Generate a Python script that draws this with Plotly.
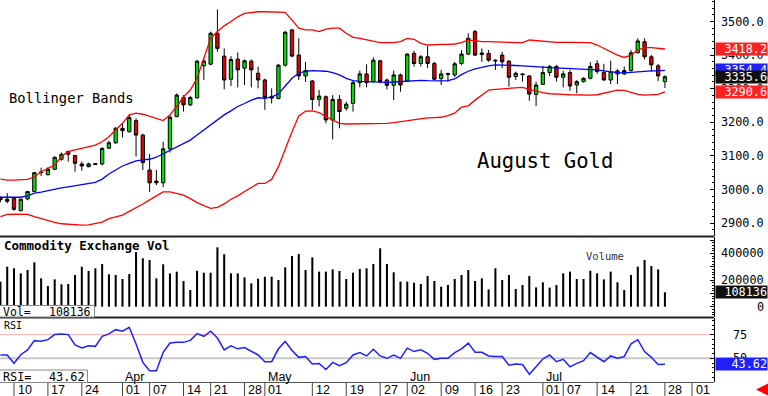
import plotly.graph_objects as go

# ---------------- data ----------------
mar_days = [6, 7, 10, 11, 12, 13, 14, 17, 18, 19, 20, 21, 24, 25, 26, 27, 28, 31]
apr_days = [1, 2, 3, 4, 7, 8, 9, 10, 11, 14, 15, 16, 17, 21, 22, 23, 24, 25, 28, 29, 30]
may_days = [1, 2, 5, 6, 7, 8, 9, 12, 13, 14, 15, 16, 19, 20, 21, 22, 23, 27, 28, 29, 30]
jun_days = [2, 3, 4, 5, 6, 9, 10, 11, 12, 13, 16, 17, 18, 20, 23, 24, 25, 26, 27, 30]
jul_days = [1, 2, 3, 7, 8, 9, 10, 11, 14, 15, 16, 17, 18, 21, 22, 23, 24, 25, 28]
future_dates = ["2025-07-29", "2025-07-30", "2025-07-31", "2025-08-01",
                "2025-08-04", "2025-08-05", "2025-08-06"]

dates = ([f"2025-03-{d:02d}" for d in mar_days] + [f"2025-04-{d:02d}" for d in apr_days]
         + [f"2025-05-{d:02d}" for d in may_days] + [f"2025-06-{d:02d}" for d in jun_days]
         + [f"2025-07-{d:02d}" for d in jul_days])
axis_dates = dates + future_dates

opens = [2975, 2971, 2974, 2937, 2972, 2994, 3050, 3044, 3060, 3090,
         3113, 3101, 3076, 3068, 3077, 3076, 3123, 3139, 3182, 3172,
         3205, 3162, 3058, 3025, 3020, 3121, 3217, 3274, 3252, 3273,
         3368, 3373, 3465, 3397, 3328, 3388, 3361, 3382, 3346, 3326,
         3277, 3271, 3370, 3475, 3400, 3338, 3323, 3268, 3276, 3207,
         3268, 3242, 3256, 3318, 3344, 3321, 3383, 3326, 3310, 3341,
         3323, 3405, 3375, 3395, 3375, 3330, 3345, 3341, 3375, 3403,
         3470, 3402, 3405, 3385, 3400, 3382, 3336, 3344, 3338, 3283,
         3313, 3348, 3366, 3334, 3348, 3311, 3321, 3331, 3374, 3348,
         3326, 3353, 3344, 3354, 3407, 3440, 3395, 3368, 3321]
highs = [2980, 2989, 2978, 2973, 2996, 3052, 3065, 3066, 3098, 3110,
         3116, 3103, 3083, 3080, 3079, 3126, 3145, 3186, 3197, 3222,
         3212, 3166, 3106, 3058, 3142, 3222, 3286, 3281, 3278, 3386,
         3390, 3470, 3536, 3420, 3397, 3408, 3387, 3387, 3366, 3330,
         3301, 3374, 3472, 3478, 3450, 3380, 3326, 3296, 3280, 3281,
         3281, 3261, 3326, 3354, 3373, 3393, 3386, 3330, 3354, 3345,
         3405, 3413, 3400, 3427, 3380, 3356, 3348, 3380, 3415, 3465,
         3475, 3420, 3415, 3387, 3410, 3385, 3351, 3346, 3340, 3321,
         3368, 3371, 3371, 3353, 3356, 3326, 3334, 3379, 3385, 3374,
         3383, 3358, 3366, 3415, 3450, 3450, 3400, 3374, 3340]
lows = [2962, 2959, 2937, 2935, 2968, 2992, 3040, 3042, 3058, 3086,
        3083, 3053, 3056, 3066, 3073, 3072, 3120, 3136, 3155, 3169,
        3098, 3058, 2993, 3013, 3007, 3110, 3215, 3232, 3248, 3270,
        3326, 3370, 3410, 3298, 3308, 3304, 3311, 3304, 3301, 3237,
        3256, 3268, 3366, 3393, 3326, 3320, 3237, 3247, 3197, 3149,
        3182, 3235, 3232, 3304, 3304, 3318, 3316, 3298, 3266, 3291,
        3321, 3366, 3366, 3361, 3326, 3311, 3321, 3334, 3370, 3400,
        3397, 3380, 3380, 3356, 3361, 3306, 3326, 3321, 3264, 3248,
        3311, 3338, 3321, 3304, 3294, 3286, 3318, 3328, 3344, 3324,
        3314, 3314, 3341, 3351, 3405, 3387, 3351, 3323, 3302]
closes = [2970, 2965, 2941, 2971, 2994, 3050, 3052, 3060, 3096, 3105,
          3105, 3078, 3070, 3076, 3075, 3122, 3139, 3182, 3175, 3214,
          3162, 3080, 3020, 3020, 3121, 3215, 3281, 3252, 3274, 3382,
          3382, 3465, 3420, 3326, 3387, 3356, 3383, 3356, 3326, 3274,
          3272, 3370, 3468, 3397, 3338, 3354, 3268, 3278, 3207, 3268,
          3232, 3254, 3318, 3344, 3318, 3385, 3321, 3310, 3341, 3311,
          3403, 3375, 3395, 3375, 3328, 3344, 3343, 3374, 3403, 3450,
          3400, 3406, 3385, 3383, 3380, 3334, 3346, 3342, 3284, 3311,
          3348, 3366, 3334, 3344, 3308, 3321, 3331, 3366, 3351, 3326,
          3351, 3344, 3354, 3407, 3442, 3395, 3371, 3338, 3335.6]

bb_upper = [3031, 3028, 3028, 3028, 3030, 3038, 3053, 3063, 3073, 3098,
            3113, 3118, 3123, 3128, 3132, 3142, 3157, 3177, 3197, 3222,
            3227, 3224, 3217, 3210, 3205, 3222, 3247, 3276, 3296, 3331,
            3390, 3450, 3470, 3487, 3500, 3514, 3524, 3527, 3529, 3529,
            3529, 3529, 3527, 3504, 3480, 3475, 3475, 3470, 3477, 3480,
            3480, 3465, 3453, 3450, 3445, 3440, 3437, 3437, 3437, 3440,
            3450, 3447, 3435, 3430, 3432, 3432, 3432, 3433, 3437, 3445,
            3443, 3440, 3440, 3440, 3439, 3438, 3437, 3437, 3445, 3443,
            3440, 3439, 3438, 3438, 3438, 3437, 3437, 3437, 3430, 3420,
            3410, 3400, 3393, 3400, 3415, 3422, 3422, 3420, 3418.2]
bb_mid = [2977, 2977, 2977, 2977, 2981, 2989, 2992, 2997, 3001, 3005,
          3008, 3011, 3013, 3016, 3021, 3031, 3046, 3058, 3070, 3078,
          3085, 3088, 3090, 3096, 3106, 3116, 3128, 3137, 3147, 3162,
          3177, 3192, 3207, 3222, 3234, 3247, 3256, 3266, 3273, 3271,
          3276, 3284, 3308, 3331, 3346, 3352, 3354, 3354, 3352, 3348,
          3341, 3331, 3324, 3322, 3321, 3320, 3319, 3319, 3320, 3321,
          3323, 3325, 3325, 3324, 3323, 3323, 3324, 3329, 3342, 3352,
          3359, 3364, 3368, 3371, 3371, 3370, 3369, 3368, 3366, 3365,
          3364, 3363, 3362, 3361, 3360, 3359, 3359, 3358, 3356, 3353,
          3350, 3348, 3347, 3349, 3351, 3352, 3353, 3353, 3354.4]
bb_lower = [2919, 2926, 2927, 2927, 2926, 2919, 2913, 2907, 2902, 2898,
            2896, 2894, 2894, 2895, 2898, 2903, 2913, 2919, 2924, 2935,
            2945, 2957, 2969, 2981, 2993, 2993, 2989, 2983, 2973, 2961,
            2952, 2944, 2947, 2957, 2971, 2981, 2994, 3007, 3018, 3018,
            3030, 3068, 3123, 3172, 3219, 3233, 3234, 3229, 3217, 3207,
            3197, 3195, 3195, 3196, 3196, 3197, 3197, 3197, 3199, 3202,
            3205, 3207, 3212, 3213, 3214, 3215, 3220, 3227, 3245, 3249,
            3266, 3281, 3296, 3298, 3299, 3300, 3302, 3304, 3298, 3292,
            3288, 3285, 3283, 3283, 3282, 3281, 3281, 3281, 3282, 3287,
            3292, 3296, 3295, 3290, 3283, 3281, 3281, 3283, 3290.6]

volume = [187000, 300000, 288000, 250000, 275000, 333000, 213000, 155000, 205000, 168000,
          170000, 238000, 300000, 268000, 288000, 320000, 243000, 238000, 208000, 245000,
          410000, 363000, 350000, 213000, 318000, 250000, 263000, 193000, 125000, 270000,
          255000, 255000, 445000, 393000, 250000, 250000, 220000, 175000, 210000, 225000,
          225000, 200000, 295000, 380000, 395000, 275000, 370000, 263000, 263000, 280000,
          268000, 208000, 255000, 283000, 288000, 320000, 438000, 320000, 258000, 188000,
          188000, 180000, 170000, 230000, 193000, 150000, 163000, 208000, 238000, 275000,
          193000, 213000, 130000, 288000, 200000, 238000, 133000, 163000, 230000, 145000,
          183000, 143000, 163000, 250000, 263000, 208000, 208000, 270000, 250000, 205000,
          263000, 183000, 125000, 238000, 300000, 350000, 305000, 280000, 108136]

rsi = [53.5, 53.5, 44.7, 53.8, 58.8, 68.6, 67.9, 69.7, 75.0, 75.7,
       75.0, 64.0, 60.9, 63.3, 62.6, 73.2, 75.7, 80.2, 78.5, 82.7,
       65.0, 45.7, 36.9, 36.9, 56.3, 66.2, 67.0, 66.8, 68.9, 76.0,
       73.2, 78.5, 71.4, 58.9, 63.2, 60.0, 61.4, 57.1, 53.5, 46.4,
       46.4, 60.0, 67.8, 58.2, 51.0, 51.8, 43.9, 44.6, 38.2, 45.7,
       42.1, 45.3, 53.5, 56.0, 52.5, 59.6, 52.5, 50.0, 53.5, 50.0,
       60.7, 57.1, 58.9, 55.3, 48.9, 50.0, 50.0, 56.0, 60.0, 66.0,
       56.4, 56.4, 52.5, 51.8, 51.8, 42.8, 43.9, 43.5, 33.2, 41.0,
       49.3, 53.5, 46.4, 48.9, 41.0, 44.6, 47.5, 56.0, 51.0, 46.4,
       52.5, 50.0, 51.8, 65.3, 69.6, 57.1, 51.0, 43.5, 43.62]

tick_dates = ["2025-03-10", "2025-03-17", "2025-03-24", "2025-04-01", "2025-04-07",
              "2025-04-14", "2025-04-21", "2025-04-28", "2025-05-01", "2025-05-12",
              "2025-05-19", "2025-05-27", "2025-06-02", "2025-06-09", "2025-06-16",
              "2025-06-23", "2025-07-01", "2025-07-07", "2025-07-14", "2025-07-21",
              "2025-07-28", "2025-08-01"]
tick_labels = ["10", "17", "24", "01", "07", "14", "21", "28", "01", "12", "19",
               "27", "02", "09", "16", "23", "01", "07", "14", "21", "28", "01"]
month_dates = ["2025-04-01", "2025-05-01", "2025-06-02", "2025-07-01"]
month_labels = ["Apr", "May", "Jun", "Jul"]
price_ticks = [2900, 3000, 3100, 3200, 3300, 3400, 3500]
vol_ticks = [0, 200000, 400000]
rsi_ticks = [50, 75]

# ---------------- layout helpers (pixels -> paper) ----------------
W, H = 768, 396
PL, PR, PT, PB = 0, 714, 0, 382


def px(x):
    return (x - PL) / (PR - PL)


def py(y):
    return (PB - y) / (PB - PT)


MONO = "DejaVu Sans Mono"
SANS = "Liberation Sans"

fig = go.Figure()
fig.add_trace(go.Candlestick(
    x=dates, open=opens, high=highs, low=lows, close=closes,
    increasing=dict(fillcolor="#00dd00", line=dict(color="#000000", width=1)),
    decreasing=dict(fillcolor="#e00000", line=dict(color="#000000", width=1)),
    whiskerwidth=0, xaxis="x", yaxis="y", showlegend=False, hoverinfo="skip"))
for band, col in ((bb_upper, "#ff0000"), (bb_lower, "#ff0000"), (bb_mid, "#0000ff")):
    fig.add_trace(go.Scatter(x=dates, y=band, mode="lines", line=dict(color=col, width=1.3),
                             xaxis="x", yaxis="y", showlegend=False, hoverinfo="skip"))
fig.add_trace(go.Bar(x=dates, y=volume, marker=dict(color="#000000", line=dict(width=0)),
                     width=0.3, xaxis="x2", yaxis="y2", showlegend=False, hoverinfo="skip"))
fig.add_trace(go.Scatter(x=dates, y=rsi, mode="lines", line=dict(color="#1f1fff", width=1.5),
                         xaxis="x3", yaxis="y3", showlegend=False, hoverinfo="skip"))

xcommon = dict(type="category", categoryorder="array", categoryarray=axis_dates,
               range=[-0.065, 105.24], showgrid=False, zeroline=False,
               showticklabels=False, showline=False, ticks="", fixedrange=True)
ycommon = dict(side="right", showgrid=False, zeroline=False, showticklabels=False,
               ticks="inside", ticklen=4, tickcolor="#000000", showline=True,
               linecolor="#000000", linewidth=1, fixedrange=True)

fig.update_layout(
    width=W, height=H, margin=dict(l=PL, r=W - PR, t=PT, b=H - PB),
    paper_bgcolor="#ffffff", plot_bgcolor="#ffffff", showlegend=False,
    xaxis=dict(**xcommon, domain=[0, 1], anchor="y", rangeslider=dict(visible=False)),
    xaxis2=dict(**xcommon, domain=[0, 1], anchor="y2", matches="x"),
    xaxis3=dict(**xcommon, domain=[0, 1], anchor="y3", matches="x"),
    yaxis=dict(**ycommon, domain=[py(236), 1], range=[2861.6, 3564], anchor="x",
               tick0=0, dtick=100, minor=dict(ticks="inside", ticklen=2, dtick=20, tickcolor="#000")),
    yaxis2=dict(**ycommon, domain=[py(317), py(237)], range=[-77250, 522750], anchor="x2",
                tick0=0, dtick=100000, minor=dict(ticks="inside", ticklen=2, dtick=20000, tickcolor="#000")),
    yaxis3=dict(**ycommon, domain=[0, py(318)], range=[25, 92.5], anchor="x3",
                tick0=0, dtick=25, minor=dict(ticks="inside", ticklen=2, dtick=5, tickcolor="#000")),
)

shapes = []
# RSI reference lines
shapes.append(dict(type="line", xref="x3 domain", x0=0, x1=1, yref="y3", y0=75, y1=75,
                   line=dict(color="#ffb0b0", width=1), layer="below"))
shapes.append(dict(type="line", xref="x3 domain", x0=0, x1=1, yref="y3", y0=50, y1=50,
                   line=dict(color="#c8c8c8", width=2), layer="below"))
# panel separators
for yy, wdt, col in ((236.5, 2, "#222222"), (317.5, 2, "#222222"), (382.5, 1, "#555555")):
    shapes.append(dict(type="line", xref="paper", x0=0, x1=1, yref="paper", y0=py(yy), y1=py(yy),
                       line=dict(color=col, width=wdt)))
# date row separators
for d in tick_dates:
    shapes.append(dict(type="line", xref="x3", x0=d, x1=d, yref="paper", y0=py(383), y1=py(396),
                       line=dict(color="#444444", width=1)))
# small value boxes at bottom-left
shapes.append(dict(type="rect", xref="paper", yref="paper", x0=px(-1), x1=px(94.5),
                   y0=py(317), y1=py(305.5), fillcolor="#ffffff", line=dict(color="#888888", width=1)))
shapes.append(dict(type="rect", xref="paper", yref="paper", x0=px(-1), x1=px(87.5),
                   y0=py(382.5), y1=py(370), fillcolor="#ffffff", line=dict(color="#888888", width=1)))
fig.update_layout(shapes=shapes)

ann = []


def text(x, y, s, size, family=MONO, color="#000000", xanchor="left", xref="paper",
         yref="paper", weight=None, **kw):
    f = dict(family=family, size=size, color=color)
    if weight:
        f["weight"] = weight
    ann.append(dict(x=x, y=y, xref=xref, yref=yref, text=s, showarrow=False, xanchor=xanchor,
                    yanchor="middle", font=f, **kw))


# right axis labels
for t in price_ticks:
    text(1, t, f"{t:.1f}", 11.8, yref="y", xanchor="right", xshift=51.5)
for t in vol_ticks:
    text(1, t, f"{t}", 11.8, yref="y2", xanchor="right", xshift=52)
for t in rsi_ticks:
    text(1, t, f"{t}", 11.8, yref="y3", xanchor="left", xshift=17)


def valuebox(val, yref, bg, fmt):
    ann.append(dict(x=1, y=val, xref="paper", yref=yref, text=fmt.format(val), showarrow=False,
                    xanchor="left", yanchor="middle", xshift=1, width=51, height=12, align="right",
                    valign="middle", bgcolor=bg, borderpad=0,
                    font=dict(family=MONO, size=11.8, color="#ffffff")))


valuebox(bb_mid[-1], "y", "#2020ff", "{:.1f}")
valuebox(closes[-1], "y", "#101010", "{:.1f}")
valuebox(bb_upper[-1], "y", "#ff2020", "{:.1f}")
valuebox(bb_lower[-1], "y", "#ff2020", "{:.1f}")
valuebox(volume[-1], "y2", "#101010", "{:d}")
valuebox(rsi[-1], "y3", "#2020ff", "{:.2f}")

# chart titles
text(px(7), py(98), "Bollinger Bands", 13.8)
text(px(475), py(160.5), "August Gold", 20.6)
text(px(2), py(245.5), "Commodity Exchange Vol", 12.5, weight="bold")
text(px(584), py(256), "Volume", 10.5, color="#333333")
text(px(1.5), py(325), "RSI", 10)
# bottom-left boxes
text(px(0.5), py(311.5), "Vol=", 11.5)
text(px(93), py(311.5), f"{volume[-1]}", 11.5, xanchor="right")
text(px(0.5), py(376.5), "RSI=", 11.8)
text(px(86.5), py(376.5), f"{rsi[-1]:.2f}", 11.8, xanchor="right")

# date labels
for d, lab in zip(tick_dates, tick_labels):
    text(d, py(389.5), lab, 12.5, family=SANS, xref="x3", xshift=1.5)
for d, lab in zip(month_dates, month_labels):
    text(d, py(376.5), lab, 12.5, family=SANS, xref="x3", xshift=1)

# red arrow bottom-right
ann.append(dict(x=px(756), y=py(389.5), xref="paper", yref="paper", text="", showarrow=True,
                ax=10, ay=0, arrowhead=2, arrowsize=1, arrowwidth=2.5, arrowcolor="#ff0000"))

fig.update_layout(annotations=ann)
fig.write_html("out.html", config={"displayModeBar": False},
               post_script="document.body.style.margin='0px';document.body.style.padding='0px';")
